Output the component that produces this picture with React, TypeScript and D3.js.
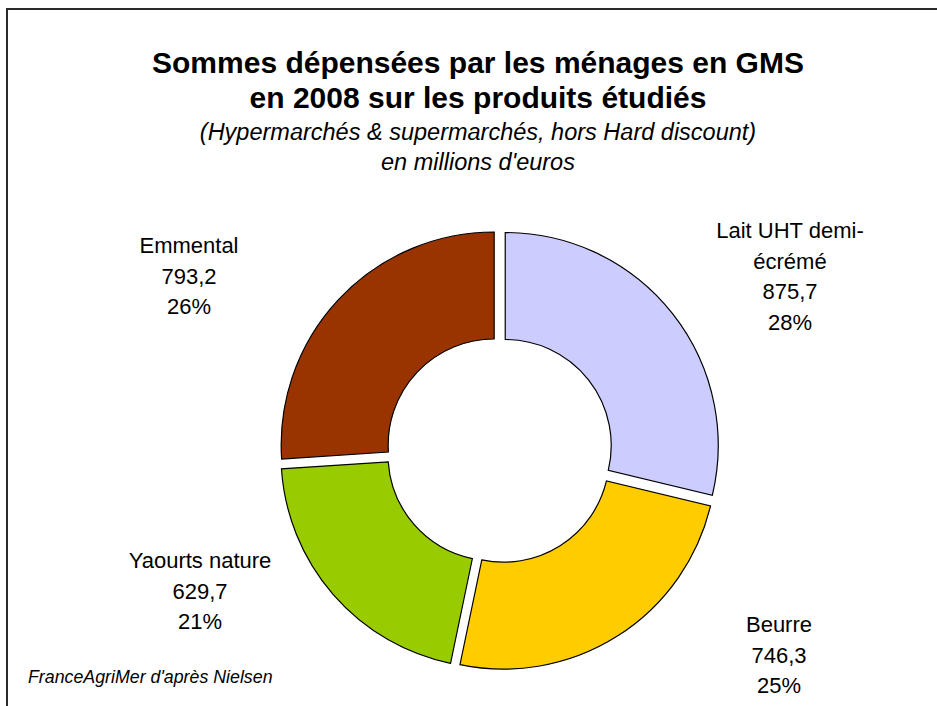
import React from 'react';
import * as d3 from 'd3';

// data (millions d'euros)
const products = ['Lait UHT demi-écrémé', 'Beurre', 'Yaourts nature', 'Emmental'];
const amounts = [875.7, 746.3, 629.7, 793.2];
const shares = ['28%', '25%', '21%', '26%'];
const nameLines = [['Lait UHT demi-', 'écrémé'], ['Beurre'], ['Yaourts nature'], ['Emmental']];
const colors = ['#CCCCFF', '#FFCC00', '#99CC00', '#993300'];

const W = 937;
const H = 706;
const cx = 499.5;
const cy = 450;
const rOuter = 213;
const rInner = 106;
const explode = 7.3;

// label block anchors: x centre, baseline of first line
const labelAnchor: [number, number][] = [
  [790, 238],
  [779, 632],
  [200, 568],
  [189, 253],
];
const lineH = 30.5;

const fmt = (v: number) => d3.format('.1f')(v).replace('.', ',');

export default function App() {
  const pie = d3.pie<number>().sort(null).value(d => d)(amounts);
  const arc = d3.arc<d3.PieArcDatum<number>>().innerRadius(rInner).outerRadius(rOuter);

  return (
    <svg width={W} height={H} style={{ display: 'block', position: 'absolute', left: 0, top: 0 }}
      fontFamily="'Liberation Sans', Arial, sans-serif">
      <rect x={0} y={0} width={W} height={H} fill="#fff" />
      <path d={`M7,${H} V9 H${W}`} fill="none" stroke="#2b2b2b" strokeWidth={2} />

      <text x={478} y={73} textAnchor="middle" fontSize={30} fontWeight="bold">Sommes dépensées par les ménages en GMS</text>
      <text x={478} y={108} textAnchor="middle" fontSize={30} fontWeight="bold">en 2008 sur les produits étudiés</text>
      <text x={478} y={140} textAnchor="middle" fontSize={23.5} fontStyle="italic">(Hypermarchés &amp; supermarchés, hors Hard discount)</text>
      <text x={478} y={170} textAnchor="middle" fontSize={23.5} fontStyle="italic">en millions d'euros</text>

      <g transform={`translate(${cx},${cy})`}>
        {pie.map((p, i) => {
          const mid = (p.startAngle + p.endAngle) / 2;
          const dx = Math.sin(mid) * explode;
          const dy = -Math.cos(mid) * explode;
          return (
            <path key={products[i]} d={arc(p) ?? ''} transform={`translate(${dx},${dy})`}
              fill={colors[i]} stroke="#000" strokeWidth={1.2} />
          );
        })}
      </g>

      {products.map((name, i) => {
        const [lx, ly] = labelAnchor[i];
        const lines = [...nameLines[i], fmt(amounts[i]), shares[i]];
        return (
          <text key={name} x={lx} y={ly} textAnchor="middle" fontSize={22}>
            {lines.map((t, j) => (
              <tspan key={j} x={lx} y={ly + j * lineH}>{t}</tspan>
            ))}
          </text>
        );
      })}

      <text x={28} y={683} fontSize={17.8} fontStyle="italic">FranceAgriMer d'après Nielsen</text>
    </svg>
  );
}
